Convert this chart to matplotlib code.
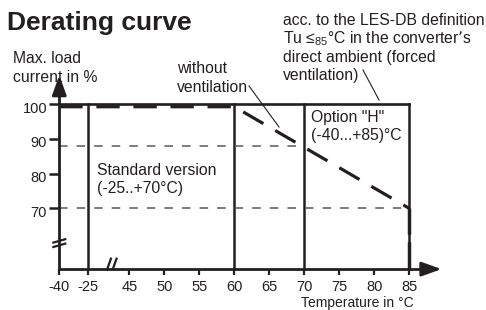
import numpy as np
import matplotlib
matplotlib.use('Agg')
import matplotlib.pyplot as plt

plt.rcParams['font.family'] = ['Liberation Sans', 'DejaVu Sans']
plt.rcParams['mathtext.default'] = 'regular'

ink = '#231f20'
grey = '#58595b'

# values
temp_ticks = [-40, -25, 45, 50, 55, 60, 65, 70, 75, 80, 85]
load_ticks = [100, 90, 80, 70]
# broken temperature axis: temperature -> position along the axis
break_temp = [-40, -25, 45, 85]
break_pos = [0, 4.14, 10, 50]
# max. load without ventilation
curve_temp = [-40, 60, 85, 85]
curve_load = [99.3, 99.3, 70, 52.5]
# solid limits of the versions
limit_temp = [-25, 60, 70, 85]
# thin dashed helper levels and where they stop
guide_load = [88, 70]
guide_temp = [70, 85]

y_floor = 52.5    # load value where the x axis sits
y_top = 108.4     # tip of the y arrow
x_tip = 54.6      # tip of the x arrow (axis position)
y_break = 60
x_break = 7.5

def tx(t):
    return np.interp(t, break_temp, break_pos)

# pixel helpers (axes fill the whole figure)
PX, PY = 7.0, 3.47
def px(x, y):
    return (x - 59.3) / PX, 100 - (y - 104.3) / PY

fig = plt.figure(figsize=(4.86, 3.10), dpi=100)
ax = fig.add_axes([0, 0, 1, 1])
ax.set_xlim(px(0, 0)[0], px(486, 0)[0])
ax.set_ylim(px(0, 310)[1], px(0, 0)[1])
ax.patch.set_visible(False)

for s in ['top', 'right']:
    ax.spines[s].set_visible(False)
ax.spines['left'].set_position(('data', 0))
ax.spines['left'].set_bounds(y_floor, y_top - 3)
ax.spines['bottom'].set_position(('data', y_floor))
ax.spines['bottom'].set_bounds(0, x_tip - 2)
for s in ['left', 'bottom']:
    ax.spines[s].set_linewidth(2.0)
    ax.spines[s].set_color(ink)
    ax.spines[s].set_capstyle('butt')

ax.set_xticks(tx(temp_ticks))
ax.set_yticks(load_ticks)
ax.tick_params(axis='y', direction='out', length=7, width=1.8, color=ink, labelleft=False)
ax.tick_params(axis='x', direction='out', length=4, width=1.6, color=ink, labelbottom=False)

# arrow heads
arrow = dict(arrowstyle='-|>,head_length=12,head_width=4.3', lw=2.0, color=ink,
             mutation_scale=1, shrinkA=0, shrinkB=0)
ax.annotate('', xy=(0, y_top), xytext=(0, y_top - 6), arrowprops=arrow)
ax.annotate('', xy=(x_tip, y_floor), xytext=(x_tip - 3, y_floor), arrowprops=arrow)

# tick labels
for t in temp_ticks:
    ax.text(tx(t), y_floor - 11 / PY, str(t), ha='center', va='top', fontsize=10.5, color=ink)
for v in load_ticks:
    ax.text(-12.3 / PX, v - 4.5 / PY, str(v), ha='right', va='center', fontsize=10.5, color=ink)

# axis breaks
for d in [-2.2, 2.2]:
    ax.plot([-7 / PX, 7 / PX], [y_break + (d - 2) / PY, y_break + (d + 2) / PY],
            color=ink, lw=1.6, solid_capstyle='butt')
for d in [-2.8, 2.8]:
    cx = x_break + d / PX
    ax.plot([cx - 2.3 / PX, cx + 2.3 / PX], [y_floor - 1.5 / PY, y_floor + 11.5 / PY],
            color=ink, lw=1.6, solid_capstyle='butt')

# solid frame of the versions
ax.plot([0, tx(85)], [100, 100], color=ink, lw=1.9, solid_capstyle='projecting')
for t in limit_temp:
    ax.plot([tx(t), tx(t)], [y_floor, 100], color=ink, lw=1.8)

# thin dashed helper lines
for v, t in zip(guide_load, guide_temp):
    ax.plot([0, tx(t)], [v, v], color=grey, lw=1.1, dashes=(5.6, 5.9))

# derating curve without ventilation
ax.plot(tx(curve_temp[:3]), curve_load[:3], color=ink, lw=2.3, dashes=(7.3, 4.3),
        dash_capstyle='butt')
ax.plot(tx(curve_temp[2:]), curve_load[2:], color=ink, lw=2.5, dashes=(7.6, 2.1),
        dash_capstyle='butt')

# texts
def label(x, y, s, size=11.3, **kw):
    ax.text(*px(x, y), s, fontsize=size, color=ink, va='baseline', ha='left', **kw)

label(7, 30, 'Derating curve', size=19, fontweight='bold')
label(13, 63.3, 'Max. load')
label(13, 81.7, 'current in %')
label(177, 73.3, 'without')
label(177, 91.7, 'ventilation')
acc_lines = ['acc. to the LES-DB definition',
             'Tu \u2264$_{85}$°C in the converter\u2019s',
             'direct ambient (forced',
             'ventilation)']
for i, s in enumerate(acc_lines):
    label(283.3, 25 + 18.4 * i, s)
label(97, 175, 'Standard version')
label(97, 192.5, '(-25..+70°C)')
label(311, 121.7, 'Option "H"')
label(311, 140, '(-40...+85)°C')
label(301, 306.5, 'Temperature in °C', size=10)

# leader lines
for (x0, y0), (x1, y1) in [((249, 86), (279, 127)), ((363, 70), (379, 100))]:
    a, b = px(x0, y0), px(x1, y1)
    ax.plot([a[0], b[0]], [a[1], b[1]], color=ink, lw=0.8)

fig.savefig('out.png', dpi=100)
